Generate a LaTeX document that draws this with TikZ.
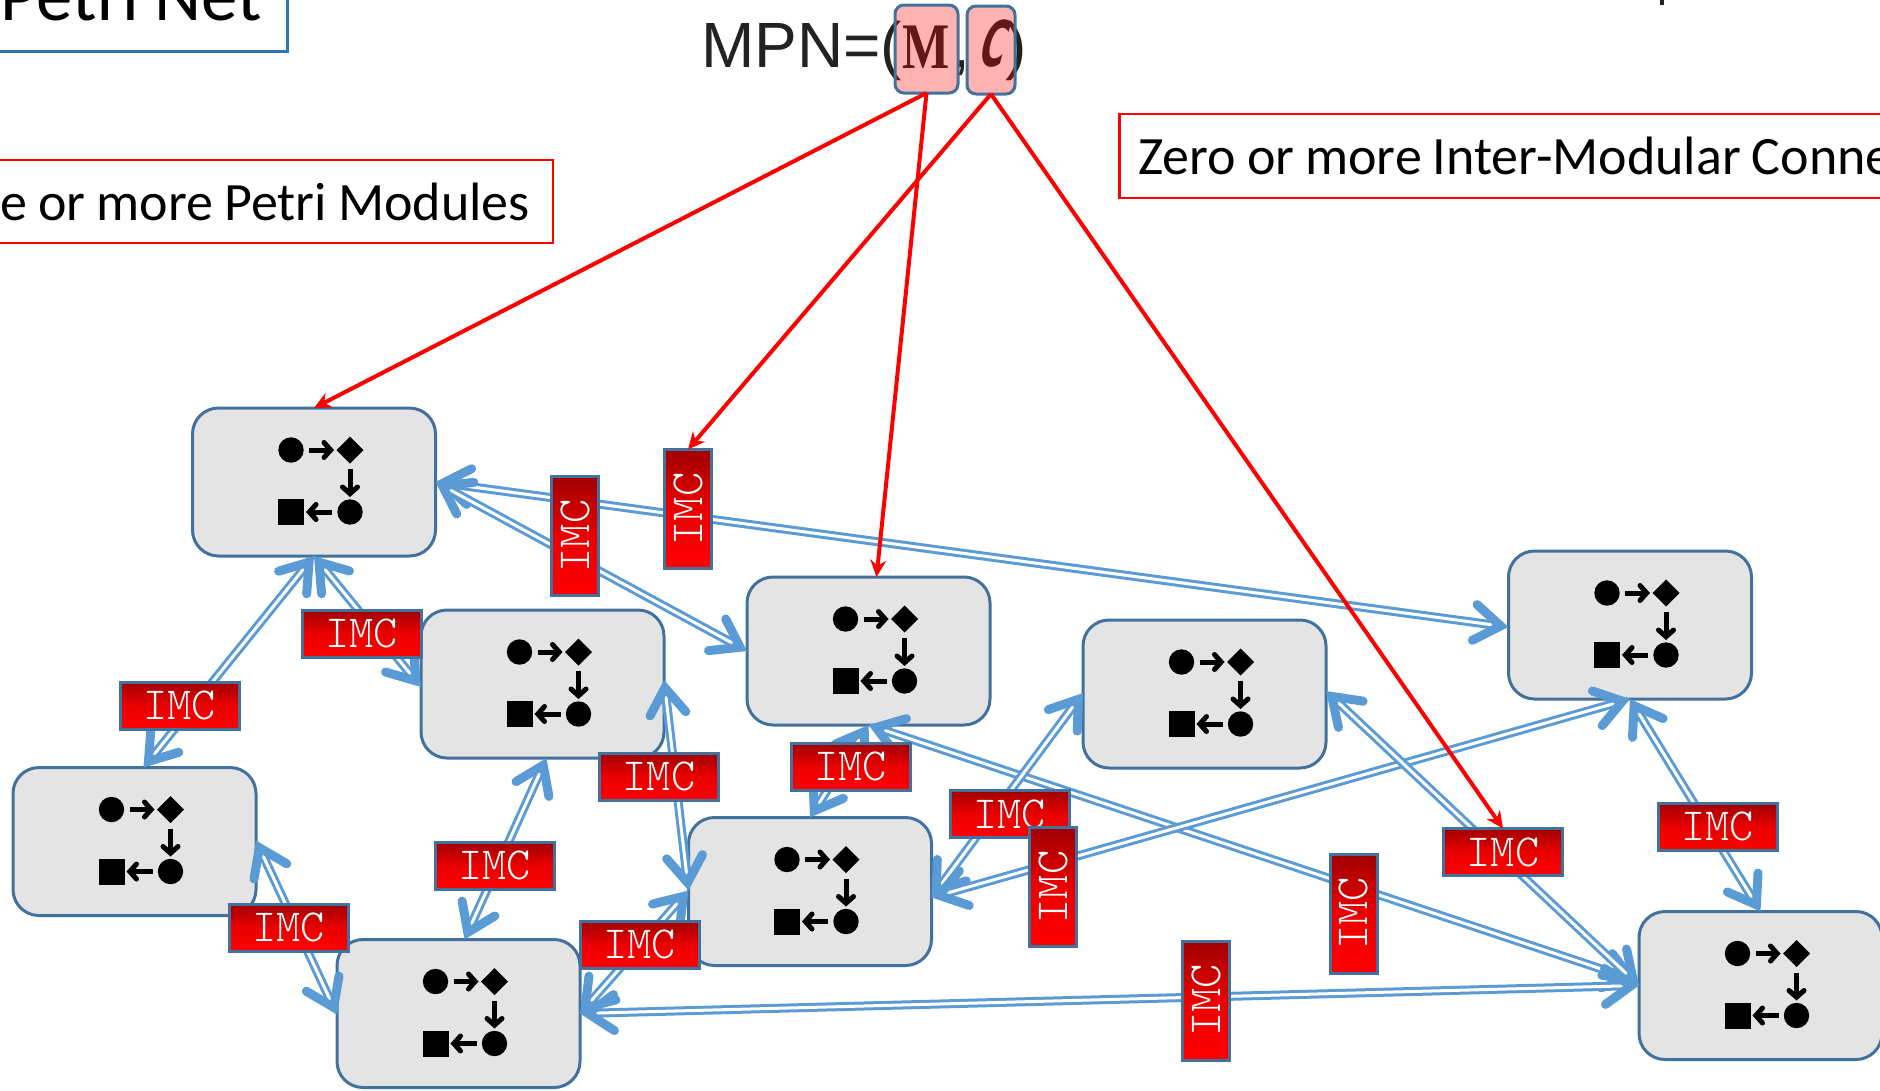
\documentclass[tikz,border=0pt]{standalone}
\usepackage{fontspec}
\setmainfont{Carlito}[WordSpace=0.9]
\newfontfamily\mpnfont{Liberation Sans}
\newfontfamily\mfont{Liberation Serif}
\newfontfamily\cfont{DejaVu Sans}[BoldFeatures={FakeSlant=0.5}]
\newfontfamily\imcfont{Latin Modern Mono Light}
\usetikzlibrary{arrows.meta,shapes.geometric,decorations.markings}
\definecolor{modfill}{HTML}{E4E4E4}
\definecolor{modline}{HTML}{41719C}
\definecolor{conn}{HTML}{5B9BD5}
\definecolor{imcdark}{HTML}{A00000}
\definecolor{inkdark}{HTML}{222222}
\definecolor{titleblue}{HTML}{2E75B6}
\newcommand{\linkheadshape}{(0,0) -- (-31.45,21.71) -- (-36.55,14.29) -- (-15.7,0) -- (-36.55,-14.29) -- (-31.45,-21.71) -- cycle (-34,18) circle (4.5) (-34,-18) circle (4.5)}
\newcommand{\iconheadshape}{(0,0) -- (-8.15,9.18) -- (-11.85,5.82) -- (-6.76,0) -- (-11.85,-5.82) -- (-8.15,-9.18) -- cycle (-10,7.5) circle (2.5) (-10,-7.5) circle (2.5)}
\tikzset{
  module/.style={draw=modline,fill=modfill,line width=3pt,rounded corners=26pt,minimum width=243pt,minimum height=148pt,inner sep=0pt,outer sep=0pt},
  link/.style={draw=conn,line width=9pt,shorten >=8pt,shorten <=8pt,
    postaction={draw=white,line width=3pt,shorten >=16pt,shorten <=16pt},
    postaction={draw=none,decorate,decoration={markings,
      mark=at position 0 with {\fill[conn,nonzero rule,rotate=180] \linkheadshape;},
      mark=at position 1 with {\fill[conn,nonzero rule] \linkheadshape;}}}},
  imc/.style={draw=modline,line width=3pt,top color=imcdark,bottom color=red,middle color=red!92!black,minimum width=119pt,minimum height=47pt,inner sep=0pt,outer sep=0pt,text=white,font=\imcfont\fontsize{46}{46}\selectfont},
  redarrow/.style={draw=red,line width=4pt,-{Stealth[length=17pt,width=16pt]}},
  pinkbox/.style={draw=modline,line width=3pt,fill=red,fill opacity=0.3,rounded corners=9pt,inner sep=0pt,outer sep=0pt},
  iconline/.style={draw=black,line width=5pt},
  pics/petri/.style={code={
    \fill[black] (-23,-32) circle (12.7);
    \fill[black] (36,-45.5) -- (49.5,-32) -- (36,-18.5) -- (22.5,-32) -- cycle;
    \fill[black] (36,30) circle (12.7);
    \fill[black] (-36,17) rectangle (-10,43);
    \draw[iconline] (-5,-32) -- (16,-32);
    \fill[black,nonzero rule,shift={(20,-32)}] \iconheadshape;
    \draw[iconline] (36,-13) -- (36,11);
    \fill[black,nonzero rule,shift={(36,15)},rotate=-90] \iconheadshape;
    \draw[iconline] (18,30) -- (-4,30);
    \fill[black,nonzero rule,shift={(-8,30)},rotate=180] \iconheadshape;
  }}
}
\begin{document}
\begin{tikzpicture}[x=1pt,y=-1pt]
\useasboundingbox (0,0) rectangle (1880,1090);
\clip (0,0) rectangle (1880,1090);
% captions
\node[draw=titleblue,line width=3pt,anchor=south east,inner xsep=26pt,inner ysep=31pt,text depth=0pt,font=\fontsize{73}{73}\selectfont] (title) at (289,53) {\makebox[300pt][r]{Petri Net}};
\node[draw=red,line width=2.5pt,anchor=south east,inner xsep=23pt,inner ysep=22pt,text depth=0pt,text height=39pt,font=\fontsize{54}{54}\selectfont] (mods) at (554,244) {\makebox[600pt][r]{e or more Petri Modules}};
\node[draw=red,line width=2.5pt,anchor=south west,inner xsep=19pt,inner ysep=23pt,text depth=0pt,text height=38pt,font=\fontsize{54}{54}\selectfont] (conns) at (1118,199) {\makebox[800pt][l]{Zero or more Inter-Modular Conne}};
\fill[inkdark] (1660,0) rectangle (1664,5);
% formula
\node[anchor=base west,inner sep=0pt,text=inkdark,font=\mpnfont\fontsize{64}{64}\selectfont] (mpn) at (701,67) {MPN=(};
\node[anchor=base,inner sep=0pt,text=inkdark] (letM) at (926,68) {\scalebox{0.77}[1]{\mfont\bfseries\fontsize{65}{65}\selectfont M}};
\node[anchor=base,inner sep=0pt,text=inkdark,font=\mpnfont\fontsize{64}{64}\selectfont] (comma) at (961,67) {,};
\node[anchor=base,inner sep=0pt,text=inkdark] (letC) at (989,66) {\scalebox{0.55}[1]{\cfont\bfseries\fontsize{63}{63}\selectfont C}};
\node[anchor=base,inner sep=0pt,text=inkdark,font=\mpnfont\fontsize{64}{64}\selectfont] (close) at (1016,67) {)};
\node[pinkbox,minimum width=63pt,minimum height=88pt] (mbox) at (926.5,49) {};
\node[pinkbox,minimum width=48pt,minimum height=88pt] (cbox) at (991,50) {};
% modules
\node[module] (A) at (314,482) {};
\node[module] (B) at (542.5,684) {};
\node[module] (C) at (868.5,651) {};
\node[module] (D) at (1204.5,694) {};
\node[module] (E) at (1630,625) {};
\node[module] (F) at (134.5,841.5) {};
\node[module] (G) at (810,891.5) {};
\node[module] (H) at (458.5,1013.5) {};
\node[module] (I) at (1760.5,985.5) {};
\foreach \m in {A,B,C,D,E,F,G,H,I} { \pic at (\m) {petri}; }
% inter-modular connectors
\draw[link] (A.south) -- ([xshift=9pt]F.north);
\draw[link] (A.south) -- ([yshift=-3pt]B.west);
\draw[link] (A.east) -- ([yshift=-2pt]E.west);
\draw[link] (A.east) -- (C.west);
\draw[link] ([xshift=4pt]B.south) -- ([xshift=6pt]H.north);
\draw[link] ([yshift=4pt]B.east) -- ([yshift=1pt]G.west);
\draw[link] (C.south) -- (G.north);
\draw[link] (C.south) -- ([yshift=4pt]I.west);
\draw[link] ([yshift=1pt]D.west) -- ([yshift=-6pt]G.east);
\draw[link] (E.south) -- ([yshift=-6pt]G.east);
\draw[link] (E.south) -- (I.north);
\draw[link] ([yshift=3pt]D.east) -- (I.west);
\draw[link] (H.east) -- (I.west);
\draw[link] (H.east) -- ([yshift=1pt]G.west);
\draw[link] ([yshift=1pt]F.east) -- ([yshift=-1pt]H.west);
% IMC blocks
\node[imc] (i1) at (179.5,705.5) {IMC};
\node[imc] (i2) at (361.5,633.5) {IMC};
\node[imc] (i3) at (659,776.5) {IMC};
\node[imc] (i4) at (850.5,766.5) {IMC};
\node[imc] (i5) at (1009.5,814) {IMC};
\node[imc] (i6) at (494.5,865.5) {IMC};
\node[imc] (i7) at (288.5,927.5) {IMC};
\node[imc] (i8) at (639.5,944.5) {IMC};
\node[imc] (i9) at (1503,852) {IMC};
\node[imc] (i10) at (1717.5,826.5) {IMC};
\node[imc,rotate=90] (v1) at (575,536) {IMC};
\node[imc,rotate=90] (v2) at (688,509) {IMC};
\node[imc,rotate=90] (v3) at (1053,887) {IMC};
\node[imc,rotate=90] (v4) at (1353.5,913.5) {IMC};
\node[imc,rotate=90] (v5) at (1206,1000.5) {IMC};
% red pointers
\draw[redarrow] (mbox.south) -- (A.north);
\draw[redarrow] (mbox.south) -- ([xshift=8pt]C.north);
\draw[redarrow] (cbox.south) -- (v2.east);
\draw[redarrow] (cbox.south) -- (i9.north);
\end{tikzpicture}
\end{document}
